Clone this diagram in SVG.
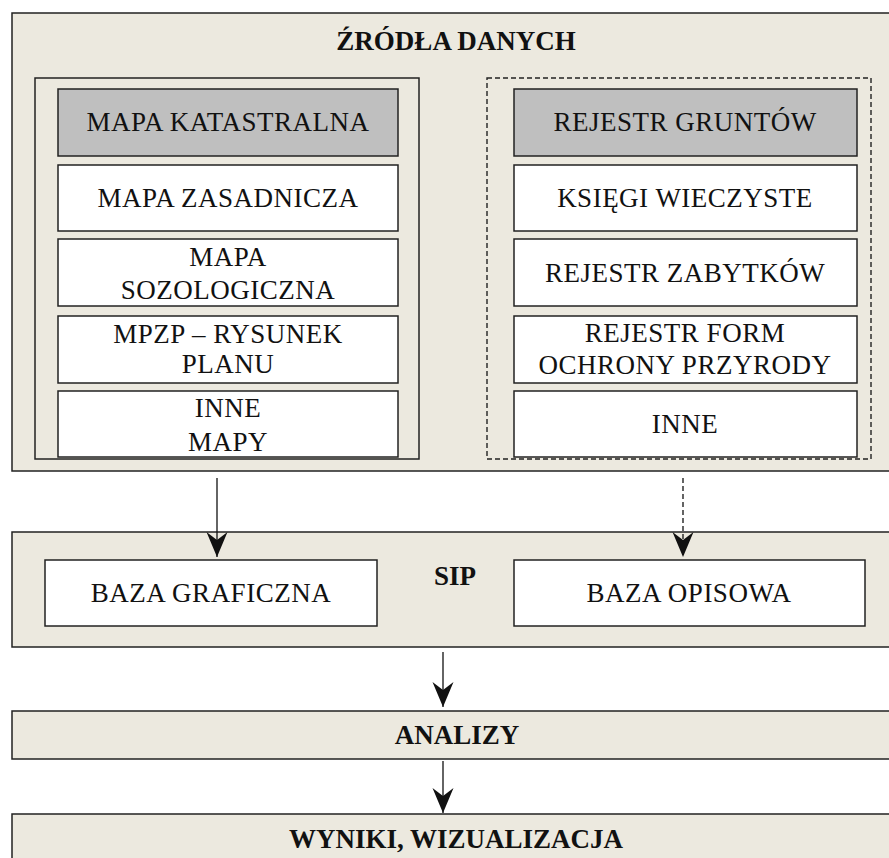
<svg xmlns="http://www.w3.org/2000/svg" width="889" height="858" viewBox="0 0 889 858">
<style>
.panel{fill:#ECE9DF;stroke:#222;stroke-width:1.5}
.inner{fill:none;stroke:#222;stroke-width:1.5}
.dash{fill:none;stroke:#222;stroke-width:1.4;stroke-dasharray:5 3}
.item{fill:#fff;stroke:#222;stroke-width:1.5}
.gray{fill:#BFBFBF;stroke:#222;stroke-width:1.5}
.t{font-family:"Liberation Serif","Times New Roman",serif;font-size:27px;fill:#111;text-anchor:middle;letter-spacing:0.5px}
.b{font-family:"Liberation Serif","Times New Roman",serif;font-size:27px;font-weight:bold;fill:#111;text-anchor:middle}
.con{stroke:#111;stroke-width:1.3;fill:none}
.cond{stroke:#111;stroke-width:1.3;fill:none;stroke-dasharray:5 3}
</style>
<defs>
<marker id="ah" markerUnits="userSpaceOnUse" markerWidth="30" markerHeight="30" viewBox="-30 -15 30 30" refX="0" refY="0" orient="auto">
<path d="M0,0 L-25,-10.5 L-17,0 L-25,10.5 Z" fill="#111"/>
</marker>
</defs>
<rect width="889" height="858" fill="#fff"/>
<g id="zrodla">
<rect class="panel" x="12" y="13" width="885" height="458"/>
<text class="b" x="456" y="50">ŹRÓDŁA DANYCH</text>
</g>
<g id="mapy-group"><rect class="inner" x="35" y="78" width="384" height="381"/></g>
<g id="rejestry-group"><rect class="dash" x="487" y="78" width="384" height="381"/></g>
<g id="mapa-katastralna"><rect class="gray" x="58" y="89" width="340" height="67"/><text class="t" x="228" y="131">MAPA KATASTRALNA</text></g>
<g id="mapa-zasadnicza"><rect class="item" x="58" y="165" width="340" height="66"/><text class="t" x="228" y="207">MAPA ZASADNICZA</text></g>
<g id="mapa-sozologiczna"><rect class="item" x="58" y="239" width="340" height="67"/><text class="t" x="228" y="266">MAPA</text><text class="t" x="228" y="299">SOZOLOGICZNA</text></g>
<g id="mpzp"><rect class="item" x="58" y="316" width="340" height="67"/><text class="t" x="228" y="343">MPZP – RYSUNEK</text><text class="t" x="228" y="373">PLANU</text></g>
<g id="inne-mapy"><rect class="item" x="58" y="391" width="340" height="66"/><text class="t" x="228" y="417">INNE</text><text class="t" x="228" y="451">MAPY</text></g>
<g id="rejestr-gruntow"><rect class="gray" x="514" y="89" width="343" height="67"/><text class="t" x="685" y="131">REJESTR GRUNTÓW</text></g>
<g id="ksiegi"><rect class="item" x="514" y="165" width="343" height="66"/><text class="t" x="685" y="207">KSIĘGI WIECZYSTE</text></g>
<g id="zabytki"><rect class="item" x="514" y="239" width="343" height="67"/><text class="t" x="685" y="282">REJESTR ZABYTKÓW</text></g>
<g id="przyroda"><rect class="item" x="514" y="316" width="343" height="67"/><text class="t" x="685" y="342">REJESTR FORM</text><text class="t" x="685" y="374">OCHRONY PRZYRODY</text></g>
<g id="inne"><rect class="item" x="514" y="391" width="343" height="66"/><text class="t" x="685" y="433">INNE</text></g>
<g id="sip">
<rect class="panel" x="12" y="532" width="885" height="115"/>
<text class="b" x="455" y="585">SIP</text>
</g>
<g id="baza-graficzna"><rect class="item" x="45" y="560" width="332" height="66"/><text class="t" x="211" y="602">BAZA GRAFICZNA</text></g>
<g id="baza-opisowa"><rect class="item" x="514" y="560" width="351" height="66"/><text class="t" x="689" y="602">BAZA OPISOWA</text></g>
<g id="analizy"><rect class="panel" x="12" y="711" width="885" height="48"/><text class="b" x="457" y="744">ANALIZY</text></g>
<g id="wyniki"><rect class="panel" x="12" y="814" width="885" height="60"/><text class="b" x="456" y="848">WYNIKI, WIZUALIZACJA</text></g>
<g id="connectors">
<line class="con" x1="217" y1="478" x2="217" y2="557" marker-end="url(#ah)"/>
<line class="cond" x1="683" y1="478" x2="683" y2="557" marker-end="url(#ah)"/>
<line class="con" x1="443" y1="652" x2="443" y2="707" marker-end="url(#ah)"/>
<line class="con" x1="443" y1="761" x2="443" y2="813" marker-end="url(#ah)"/>
</g>
</svg>
